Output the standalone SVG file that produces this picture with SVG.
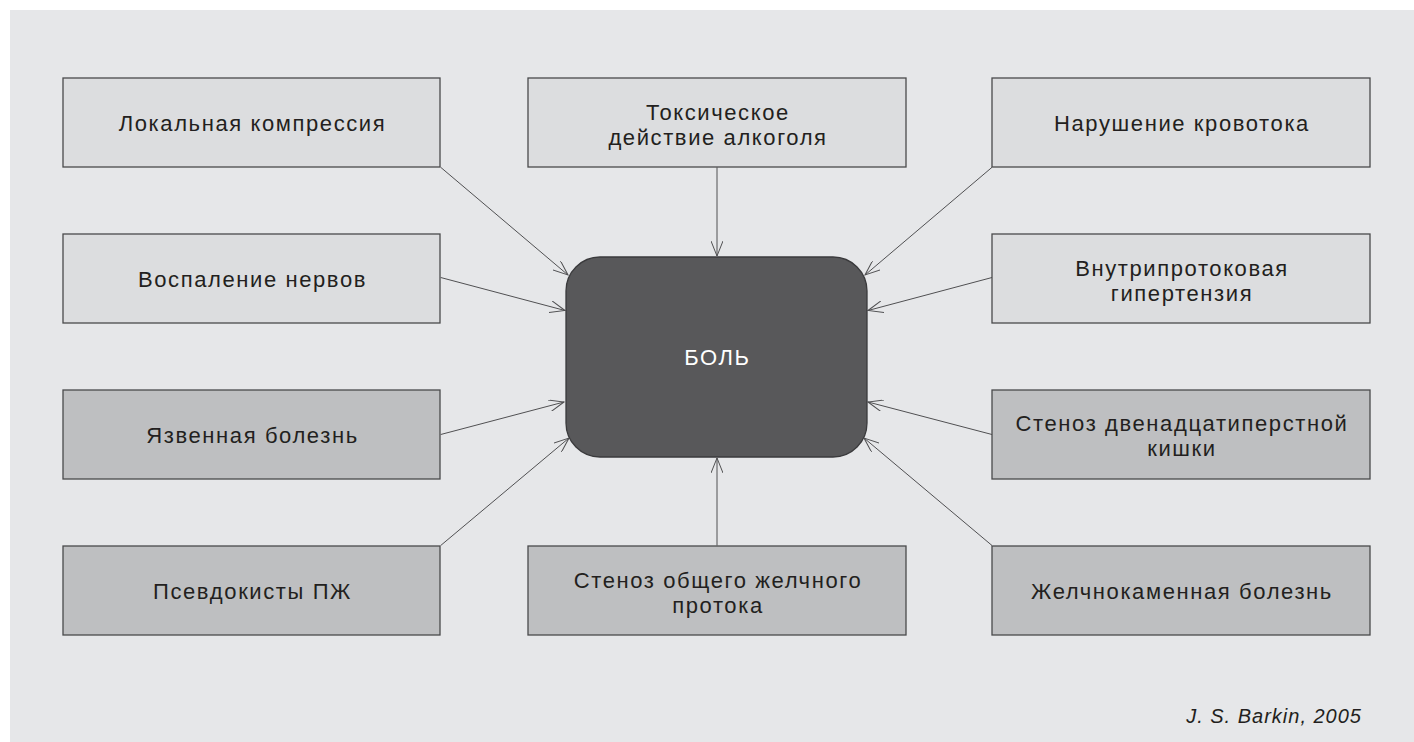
<svg xmlns="http://www.w3.org/2000/svg" width="1414" height="742" viewBox="0 0 1414 742">
<style>
.light{fill:#dcdddf;stroke:#4a4a4c;stroke-width:1.3}
.dark{fill:#bebfc1;stroke:#4a4a4c;stroke-width:1.3}
.t{font-family:"Liberation Sans",Arial,sans-serif;font-size:22px;letter-spacing:1.6px;fill:#231f20;text-anchor:middle}
.c{stroke:#505052;stroke-width:1;fill:none;marker-end:url(#ah)}
</style>
<defs>
<marker id="ah" viewBox="0 0 16 12" refX="15" refY="6" markerWidth="16" markerHeight="12" markerUnits="userSpaceOnUse" orient="auto">
<path d="M0,0 L15,6 L0,12" fill="none" stroke="#505052" stroke-width="1"/>
</marker>
</defs>
<rect x="0" y="0" width="1414" height="742" fill="#ffffff"/>
<rect x="10" y="10" width="1404" height="732" fill="#e6e7e9"/>
<g id="connectors">
<line class="c" x1="440.7" y1="167.3" x2="568" y2="275"/>
<line class="c" x1="440.7" y1="277.5" x2="565" y2="310.5"/>
<line class="c" x1="440.7" y1="434.5" x2="564" y2="402"/>
<line class="c" x1="440.7" y1="545.5" x2="569" y2="438"/>
<line class="c" x1="717" y1="167.3" x2="717" y2="256"/>
<line class="c" x1="717" y1="545.5" x2="717" y2="458"/>
<line class="c" x1="992" y1="167.3" x2="865" y2="275"/>
<line class="c" x1="992" y1="277.5" x2="868" y2="310.5"/>
<line class="c" x1="992" y1="434.5" x2="868" y2="402"/>
<line class="c" x1="992" y1="545.5" x2="864" y2="438"/>
</g>
<g id="n1"><rect class="light" x="63" y="78" width="377" height="89"/><text class="t" x="252.5" y="131">Локальная компрессия</text></g>
<g id="n2"><rect class="light" x="528" y="78" width="378" height="89"/><text class="t" x="718" y="120">Токсическое</text><text class="t" x="718" y="145">действие алкоголя</text></g>
<g id="n3"><rect class="light" x="992" y="78" width="378" height="89"/><text class="t" x="1182" y="131">Нарушение кровотока</text></g>
<g id="n4"><rect class="light" x="63" y="234" width="377" height="89"/><text class="t" x="252.5" y="287">Воспаление нервов</text></g>
<g id="n5"><rect class="light" x="992" y="234" width="378" height="89"/><text class="t" x="1182" y="276">Внутрипротоковая</text><text class="t" x="1182" y="301">гипертензия</text></g>
<g id="n6"><rect class="dark" x="63" y="390" width="377" height="89"/><text class="t" x="252.5" y="443">Язвенная болезнь</text></g>
<g id="n7"><rect class="dark" x="992" y="390" width="378" height="89"/><text class="t" x="1182" y="431">Стеноз двенадцатиперстной</text><text class="t" x="1182" y="456">кишки</text></g>
<g id="n8"><rect class="dark" x="63" y="546" width="377" height="89"/><text class="t" x="252.5" y="599">Псевдокисты ПЖ</text></g>
<g id="n9"><rect class="dark" x="528" y="546" width="378" height="89"/><text class="t" x="718" y="588">Стеноз общего желчного</text><text class="t" x="718" y="613">протока</text></g>
<g id="n10"><rect class="dark" x="992" y="546" width="378" height="89"/><text class="t" x="1182" y="599">Желчнокаменная болезнь</text></g>
<g id="center"><rect x="566" y="257" width="301" height="200" rx="34" ry="34" fill="#58585a" stroke="#3a3a3c" stroke-width="1.3"/><text class="t" x="717.5" y="365" style="fill:#ffffff">БОЛЬ</text></g>
<text x="1362" y="723" style="font-family:'Liberation Sans',Arial,sans-serif;font-size:20px;letter-spacing:1px;font-style:italic;fill:#231f20;text-anchor:end">J. S. Barkin, 2005</text>
</svg>
